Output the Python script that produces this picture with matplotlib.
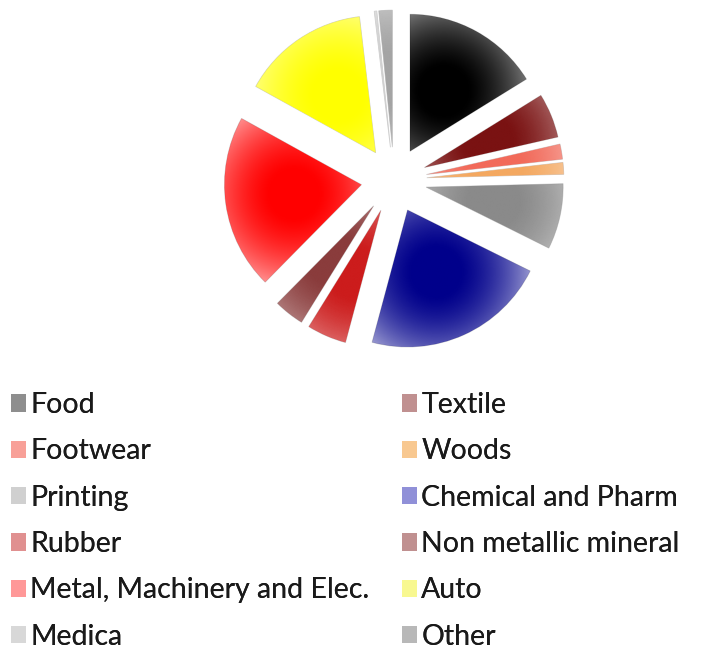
import numpy as np
import matplotlib
matplotlib.use("Agg")
import matplotlib.pyplot as plt
from matplotlib.colors import to_rgb
from matplotlib.patches import Patch

plt.rcParams['font.family'] = ['Lato', 'DejaVu Sans']

sectors = ["Food", "Textile", "Footwear", "Woods", "Printing",
           "Chemical and Pharm", "Rubber", "Non metallic mineral",
           "Metal, Machinery and Elec.", "Auto", "Medica", "Other"]
shares = [16.3, 5.3, 1.8, 1.4, 7.8, 22.0, 4.7, 3.6, 20.8, 15.2, 0.3, 1.6]
colors = ["#000000", "#7a1212", "#f26a5a", "#f4a860", "#8a8a8a", "#00008b",
          "#cc1c1c", "#8a3c3c", "#ff0000", "#ffff00", "#d0d0d0", "#a4a4a4"]
swatch_colors = ["#8e8e8e", "#c09090", "#f8a098", "#f8c890", "#d0d0d0", "#9090d8",
                 "#e09090", "#c09090", "#ff9898", "#f8f890", "#d8d8d8", "#b8b8b8"]

W, H = 704, 651
fig = plt.figure(figsize=(W / 100, H / 100), dpi=100)

# pie axes: centre at (394, 180) px from top-left, radius 137 px
R_px = 137
lim = 1.3
side = 2 * lim * R_px
cx, cy = 394, 180
ax = fig.add_axes([(cx - side / 2) / W, (H - cy - side / 2) / H, side / W, side / H])

explode = 0.24
wedges, _ = ax.pie(shares, colors=colors, startangle=90, counterclock=False,
                   explode=[explode] * len(shares), radius=1,
                   wedgeprops=dict(linewidth=0.6, edgecolor="#cfcfcf"))
ax.set_xlim(-lim, lim)
ax.set_ylim(-lim, lim)
ax.set_aspect("equal")
ax.axis("off")

# shaded fill: full colour near a focus inside each wedge, fading to white outward
n = 600
xs = np.linspace(-lim, lim, n)
gx, gy = np.meshgrid(xs, xs[::-1])
for w, col in zip(wedges, colors):
    mid = np.deg2rad((w.theta1 + w.theta2) / 2)
    ox, oy = w.center
    fx = ox + 0.5 * np.cos(mid)
    fy = oy + 0.5 * np.sin(mid)
    d = np.hypot(gx - fx, gy - fy)
    alpha = np.clip(1.05 - 0.75 * (d / 0.75) ** 2, 0.3, 1.0)
    img = np.zeros((n, n, 4))
    img[..., :3] = to_rgb(col)
    img[..., 3] = alpha
    w.set_facecolor("white")
    im = ax.imshow(img, extent=(-lim, lim, -lim, lim), interpolation="bilinear", zorder=2)
    im.set_clip_path(w)

# legend: two columns, read row by row
handles = [Patch(facecolor=c, edgecolor="none") for c in swatch_colors]
legend_kw = dict(loc="upper left", frameon=False, fontsize=20.5,
                 handlelength=0.53, handleheight=0.56, handletextpad=0.15,
                 labelspacing=0.715, borderaxespad=0.0, borderpad=0.0,
                 labelcolor="#1a1a1a")
for col, x0 in zip((0, 1), (11, 402)):
    idx = list(range(col, len(sectors), 2))
    leg = fig.legend([handles[i] for i in idx], [sectors[i] for i in idx],
                     bbox_to_anchor=(x0 / W, 1 - 392 / H), **legend_kw)
    fig.add_artist(leg)

fig.savefig("out.png", dpi=100, facecolor="white")
